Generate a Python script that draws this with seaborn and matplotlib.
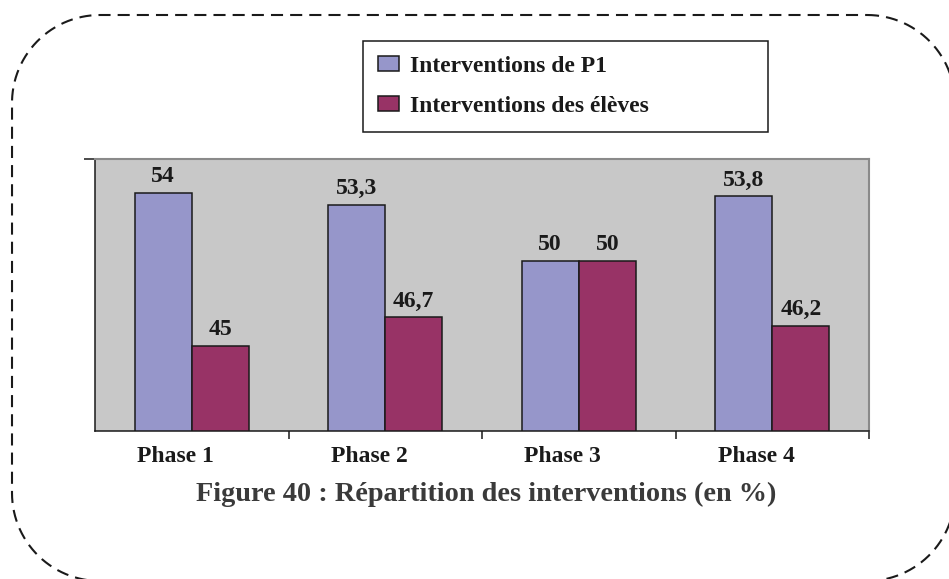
import matplotlib
matplotlib.use("Agg")
import matplotlib.pyplot as plt
from matplotlib.lines import Line2D
from matplotlib.transforms import IdentityTransform, ScaledTranslation
from matplotlib.font_manager import FontProperties
import numpy as np
import pandas as pd
import seaborn as sns

# Data
phases = ["Phase 1", "Phase 2", "Phase 3", "Phase 4"]
series_names = ["Interventions de P1", "Interventions des élèves"]
p1_values = [54, 53.3, 50, 53.8]
eleves_values = [45, 46.7, 50, 46.2]
bar_colors = ["#9696CA", "#983366"]
title_text = "Figure 40 : Répartition des interventions (en %)"

df = pd.DataFrame({
    "phase": phases * 2,
    "valeur": p1_values + eleves_values,
    "serie": [series_names[0]] * len(phases) + [series_names[1]] * len(phases),
})

sns.set_style("white")
plt.rcParams["font.family"] = ["Liberation Serif", "DejaVu Serif"]
bold17 = FontProperties(family="Liberation Serif", weight="bold", size=17)

W, H = 949, 579
fig = plt.figure(figsize=(W / 100, H / 100), dpi=100)
fig.patch.set_facecolor("white")

# Plot area in pixel geometry
left, top, right, bottom = 95, 159, 869, 431
ax = fig.add_axes([left / W, 1 - bottom / H, (right - left) / W, (bottom - top) / H])

sns.barplot(
    data=df, x="phase", y="valeur", hue="serie", order=phases,
    hue_order=series_names, palette=bar_colors, saturation=1,
    width=0.59, edgecolor="#1a1a1a", linewidth=1.1, ax=ax,
)
ax.set_facecolor("#C8C8C8")
ax.set_xlim(-0.5, 3.5)
ax.set_ylim(40, 56)
ax.set_xlabel("")
ax.set_ylabel("")

# Value labels with French decimal comma
for cont in ax.containers:
    labels = [f"{b.get_height():g}".replace(".", ",") for b in cont]
    texts = ax.bar_label(cont, labels=labels, padding=4, color="#1a1a1a")
    for t in texts:
        t.set_fontproperties(bold17)

# Spines
for s in ["left", "bottom"]:
    ax.spines[s].set_color("#1a1a1a")
    ax.spines[s].set_linewidth(1.1)
for s in ["top", "right"]:
    ax.spines[s].set_color("#8a8a8a")
    ax.spines[s].set_linewidth(1.5)

# Y axis: single tick at top, no labels
ax.set_yticks([56])
ax.set_yticklabels([])
ax.tick_params(axis="y", length=8, width=1.1, color="#1a1a1a", direction="out", left=True)

# X axis: labels at centers, ticks at category boundaries
ax.set_xticks(range(len(phases)))
ax.set_xticklabels(phases, color="#1a1a1a")
for lab in ax.get_xticklabels():
    lab.set_fontproperties(bold17)
ax.set_xticks([0.5, 1.5, 2.5, 3.5], minor=True)
ax.tick_params(axis="x", which="major", length=0, pad=11, bottom=True)
ax.tick_params(axis="x", which="minor", length=6, width=1.1, color="#1a1a1a",
               direction="out", bottom=True)
shift = ScaledTranslation(-16 / 100, 0, fig.dpi_scale_trans)
for lab in ax.get_xticklabels():
    lab.set_transform(lab.get_transform() + shift)

# Legend box
handles, labels = ax.get_legend_handles_labels()
ax.get_legend().remove()
leg = fig.legend(
    handles, labels, loc="upper left",
    bbox_to_anchor=(363 / W, 1 - 41 / H, (768 - 363) / W, 0),
    bbox_transform=fig.transFigure, mode="expand", borderaxespad=0,
    prop=bold17, frameon=True, fancybox=False, framealpha=1,
    edgecolor="#1a1a1a", borderpad=0.62, labelspacing=0.82,
    handlelength=0.89, handleheight=0.63, handletextpad=0.5,
)
leg.get_frame().set_linewidth(1.1)
for t in leg.get_texts():
    t.set_color("#1a1a1a")

# Caption
fig.text(486 / W, 1 - 494 / H, title_text, ha="center", va="center",
         fontsize=20.3, fontweight="bold", color="#3a3a3a",
         family=["Liberation Serif", "DejaVu Serif"])

# Dashed rounded frame around the figure (pixel units, y measured from top)
x0, y0, x1, y1, r = 12, 15, 955, 581, 88
corners = [
    (x1 - r, y0 + r, -90, 0),    # top-right
    (x1 - r, y1 - r, 0, 90),     # bottom-right
    (x0 + r, y1 - r, 90, 180),   # bottom-left
    (x0 + r, y0 + r, 180, 270),  # top-left
]
xs, ys = [], []
for cx, cy, a0, a1 in corners:
    ang = np.radians(np.linspace(a0, a1, 60))
    xs.extend(cx + r * np.cos(ang))
    ys.extend(cy + r * np.sin(ang))
xs.append(xs[0])
ys.append(ys[0])
frame = Line2D(np.array(xs), H - np.array(ys), transform=IdentityTransform(),
               color="#1a1a1a", linewidth=1.5, linestyle=(0, (5.8, 3.4)))
fig.lines.append(frame)

fig.savefig("out.png", dpi=100)
